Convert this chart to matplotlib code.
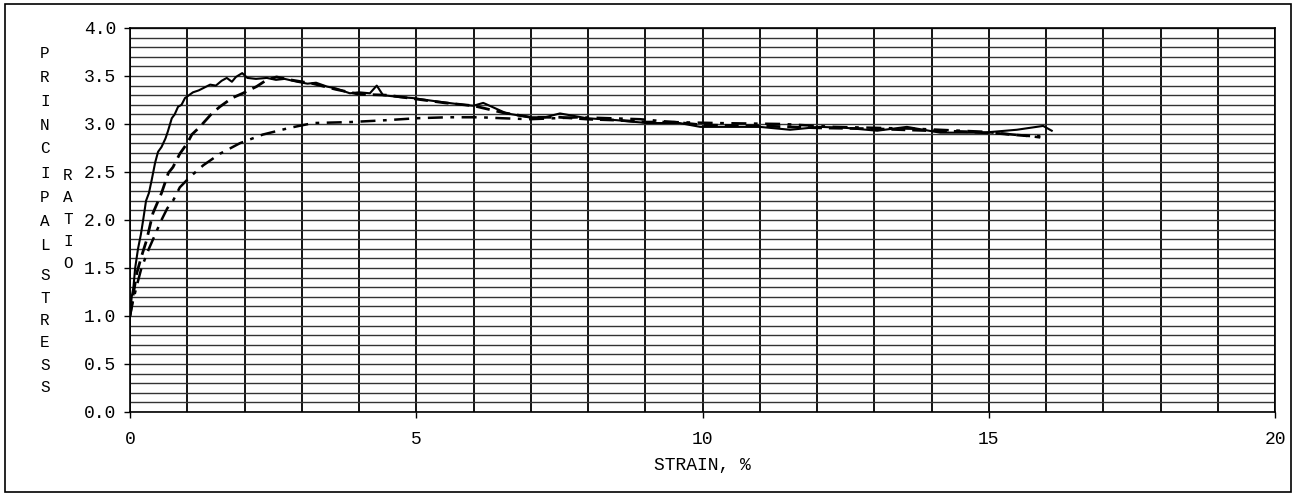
import matplotlib
matplotlib.use('Agg')
import matplotlib.pyplot as plt
import numpy as np
from matplotlib.patches import Rectangle

# solid curve
solid_x = [0, 0.03, 0.06, 0.09, 0.14, 0.19, 0.23, 0.28, 0.33, 0.38, 0.44, 0.49, 0.55, 0.62, 0.66,
           0.7, 0.73, 0.78, 0.84, 0.9, 0.96, 1.03, 1.1, 1.2, 1.3, 1.4, 1.5, 1.6, 1.69, 1.78, 1.85,
           1.96, 2.05, 2.2, 2.39, 2.55, 2.7, 2.92, 3.1, 3.25, 3.44, 3.6, 3.84, 4.0, 4.19, 4.31,
           4.42, 4.72, 4.94, 5.3, 5.82, 6.0, 6.17, 6.58, 6.99, 7.25, 7.51, 7.98, 8.5, 9.03, 9.6,
           9.96, 10.5, 11.0, 11.53, 12.05, 12.5, 13.05, 13.57, 14.15, 14.9, 15.49, 15.95, 16.1]
solid_y = [1.0, 1.2, 1.3, 1.5, 1.7, 1.85, 2.0, 2.2, 2.28, 2.42, 2.6, 2.71, 2.76, 2.85, 2.92,
           3.0, 3.06, 3.1, 3.18, 3.2, 3.27, 3.3, 3.33, 3.35, 3.38, 3.41, 3.4, 3.45, 3.48, 3.44, 3.49,
           3.53, 3.48, 3.47, 3.48, 3.46, 3.47, 3.44, 3.42, 3.43, 3.39, 3.37, 3.32, 3.33, 3.32, 3.40,
           3.30, 3.28, 3.27, 3.24, 3.20, 3.19, 3.22, 3.11, 3.07, 3.07, 3.11, 3.06, 3.04, 3.01, 3.01,
           2.97, 2.97, 2.97, 2.94, 2.97, 2.96, 2.93, 2.97, 2.91, 2.91, 2.94, 2.98, 2.93]

# dashed curve
dash_x = [0, 0.05, 0.12, 0.2, 0.29, 0.4, 0.55, 0.67, 0.75, 0.87, 1.0, 1.08, 1.22, 1.43, 1.57,
          1.78, 1.97, 2.21, 2.39, 2.56, 2.8, 3.2, 3.6, 4.0, 4.5, 5.0, 5.5, 6.0, 6.5, 7.0, 7.5,
          8.0, 8.5, 9.0, 9.5, 10.0, 11.0, 12.0, 13.0, 14.0, 14.6, 15.2, 15.6, 15.9]
dash_y = [1.0, 1.2, 1.45, 1.62, 1.79, 2.07, 2.28, 2.49, 2.55, 2.69, 2.80, 2.89, 2.97, 3.11, 3.18,
          3.27, 3.32, 3.39, 3.46, 3.49, 3.46, 3.42, 3.36, 3.31, 3.30, 3.26, 3.22, 3.19, 3.12, 3.07,
          3.07, 3.05, 3.04, 3.02, 3.02, 2.99, 2.98, 2.96, 2.95, 2.93, 2.92, 2.90, 2.88, 2.87]

# dash-dot curve
dd_x = [0, 0.05, 0.12, 0.2, 0.33, 0.44, 0.55, 0.65, 0.76, 0.87, 1.05, 1.28, 1.57, 1.92, 2.32,
        2.79, 3.2, 3.84, 4.49, 5.0, 5.54, 6.11, 6.5, 6.99, 7.86, 8.91, 9.48, 10.25, 11.4, 12.3,
        13.75, 14.9, 15.77, 15.9]
dd_y = [1.0, 1.15, 1.32, 1.5, 1.7, 1.85, 2.0, 2.12, 2.21, 2.34, 2.45, 2.57, 2.69, 2.80, 2.89,
        2.96, 3.01, 3.02, 3.04, 3.06, 3.07, 3.07, 3.06, 3.05, 3.07, 3.05, 3.02, 3.01, 3.0, 2.97,
        2.95, 2.92, 2.87, 2.86]

W, H = 1296, 495
mono = 'Liberation Mono'

fig = plt.figure(figsize=(W / 100, H / 100), dpi=100)
ax = fig.add_axes([130 / W, 1 - 412 / H, 1145 / W, 384 / H])

ax.plot(solid_x, solid_y, color='black', lw=1.5)
ax.plot(dash_x, dash_y, color='black', lw=2, linestyle=(0, (5, 2.5)))
ax.plot(dd_x, dd_y, color='black', lw=1.8, linestyle=(0, (6, 3, 1.5, 3)))

ax.set_xlim(0, 20)
ax.set_ylim(0, 4)
ax.set_xticks(np.arange(0, 21, 5))
ax.set_xticks(np.arange(0, 21, 1), minor=True)
ax.set_yticks(np.arange(0, 4.01, 0.5))
ax.set_yticks(np.arange(0, 4.01, 0.1), minor=True)
ax.set_yticklabels(['%.1f' % v for v in np.arange(0, 4.01, 0.5)])
ax.tick_params(which='minor', length=0)
ax.tick_params(which='major', direction='out', length=4, width=1, colors='black')
ax.tick_params(axis='x', pad=10)
ax.tick_params(axis='y', pad=6)
for lab in ax.get_xticklabels() + ax.get_yticklabels():
    lab.set_fontfamily(mono)
    lab.set_fontsize(13)

ax.grid(True, which='both', axis='x', color='black', lw=1.3)
ax.grid(True, which='both', axis='y', color='#333333', lw=1.0)
ax.set_axisbelow(True)
for sp in ax.spines.values():
    sp.set_linewidth(1.2)

ax.set_xlabel('STRAIN, %', fontfamily=mono, fontsize=13, labelpad=6)

# stacked y-axis label letters
for i, ch in enumerate('PRINCIPAL'):
    fig.text(45 / W, 1 - (53 + 24 * i) / H, ch, fontfamily=mono, fontsize=11.5, ha='center', va='center')
for i, ch in enumerate('STRESS'):
    fig.text(45 / W, 1 - (276 + 22.3 * i) / H, ch, fontfamily=mono, fontsize=11.5, ha='center', va='center')
for i, ch in enumerate('RATIO'):
    fig.text(68 / W, 1 - (175 + 22 * i) / H, ch, fontfamily=mono, fontsize=11.5, ha='center', va='center')

# outer frame
fig.patches.append(Rectangle((5 / W, 3 / H), 1286 / W, 488 / H, transform=fig.transFigure,
                             fill=False, edgecolor='black', lw=1.2))

fig.savefig('out.png', dpi=100)
